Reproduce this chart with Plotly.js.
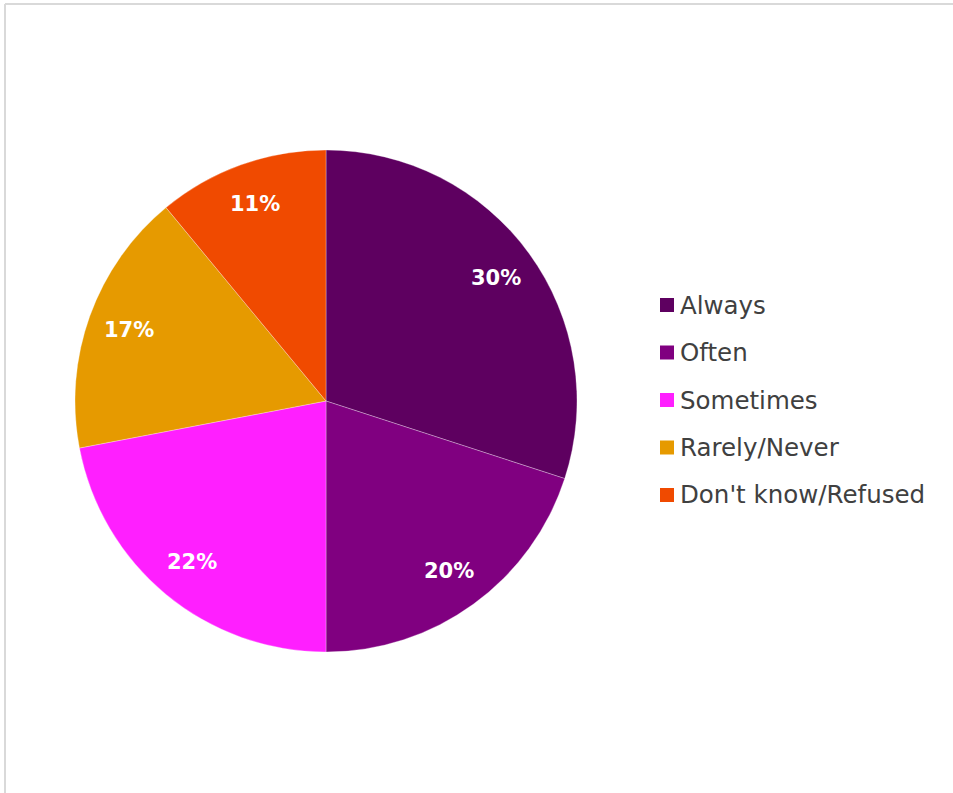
<!DOCTYPE html>
<html>
<head>
<meta charset="utf-8">
<script src="https://cdn.plot.ly/plotly-3.0.1.min.js"></script>
<style>
html,body{margin:0;padding:0;background:#fff;overflow:hidden;}
#chart{width:953px;height:793px;}
</style>
</head>
<body>
<div id="chart"></div>
<script>
const categories = ["Always", "Often", "Sometimes", "Rarely/Never", "Don't know/Refused"];
const values = [30, 20, 22, 17, 11];
const colors = ["#5E0060", "#800080", "#FF1FFF", "#E69A00", "#F04A00"];

const W = 953, H = 793;
// pie placement (pixels)
const pieLeft = 75, pieRight = 577, pieTop = 150, pieBottom = 652;
const cx = (pieLeft + pieRight) / 2, cy = (pieTop + pieBottom) / 2, R = (pieRight - pieLeft) / 2;
const px = x => x / W, py = y => 1 - y / H;

const total = values.reduce((a, b) => a + b, 0);
const annotations = [];
let cum = 0;
values.forEach((v, i) => {
  const mid = (cum + v / 2) / total * 2 * Math.PI;
  cum += v;
  const r = 0.835 * R;
  annotations.push({
    xref: 'paper', yref: 'paper',
    x: px(cx + r * Math.sin(mid)), y: py(cy - r * Math.cos(mid)),
    text: Math.round(v / total * 100) + '%',
    showarrow: false, xanchor: 'center', yanchor: 'middle',
    font: {family: 'DejaVu Sans', size: 21, color: '#ffffff', weight: 'bold'}
  });
});

// custom legend
const shapes = [];
const legX = 660, legY0 = 305, legGap = 47.5, sq = 14;
categories.forEach((c, i) => {
  const y = legY0 + i * legGap;
  shapes.push({type: 'rect', xref: 'paper', yref: 'paper',
    x0: px(legX), x1: px(legX + sq), y0: py(y - sq / 2), y1: py(y + sq / 2),
    fillcolor: colors[i], line: {width: 0}});
  annotations.push({xref: 'paper', yref: 'paper', x: px(legX + 18), y: py(y),
    text: c, showarrow: false, xanchor: 'left', yanchor: 'middle',
    font: {family: 'DejaVu Sans', size: 24.5, color: '#404040'}});
});
// outer border (top and left visible)
shapes.push({type: 'line', xref: 'paper', yref: 'paper', x0: px(5), x1: 1.01, y0: py(4), y1: py(4), line: {color: '#d9d9d9', width: 2}});
shapes.push({type: 'line', xref: 'paper', yref: 'paper', x0: px(5), x1: px(5), y0: py(4), y1: -0.01, line: {color: '#d9d9d9', width: 2}});

const data = [{
  type: 'pie',
  labels: categories,
  values: values,
  sort: false,
  direction: 'clockwise',
  rotation: 0,
  marker: {colors: colors, line: {color: 'rgba(255,255,255,0.6)', width: 0.5}},
  textinfo: 'none',
  hoverinfo: 'label+percent',
  domain: {x: [px(pieLeft), px(pieRight)], y: [py(pieBottom), py(pieTop)]},
  showlegend: false
}];

const layout = {
  width: W, height: H,
  margin: {l: 0, r: 0, t: 0, b: 0},
  paper_bgcolor: '#ffffff',
  showlegend: false,
  annotations: annotations,
  shapes: shapes
};

Plotly.newPlot('chart', data, layout, {displayModeBar: false, staticPlot: true});
</script>
</body>
</html>
